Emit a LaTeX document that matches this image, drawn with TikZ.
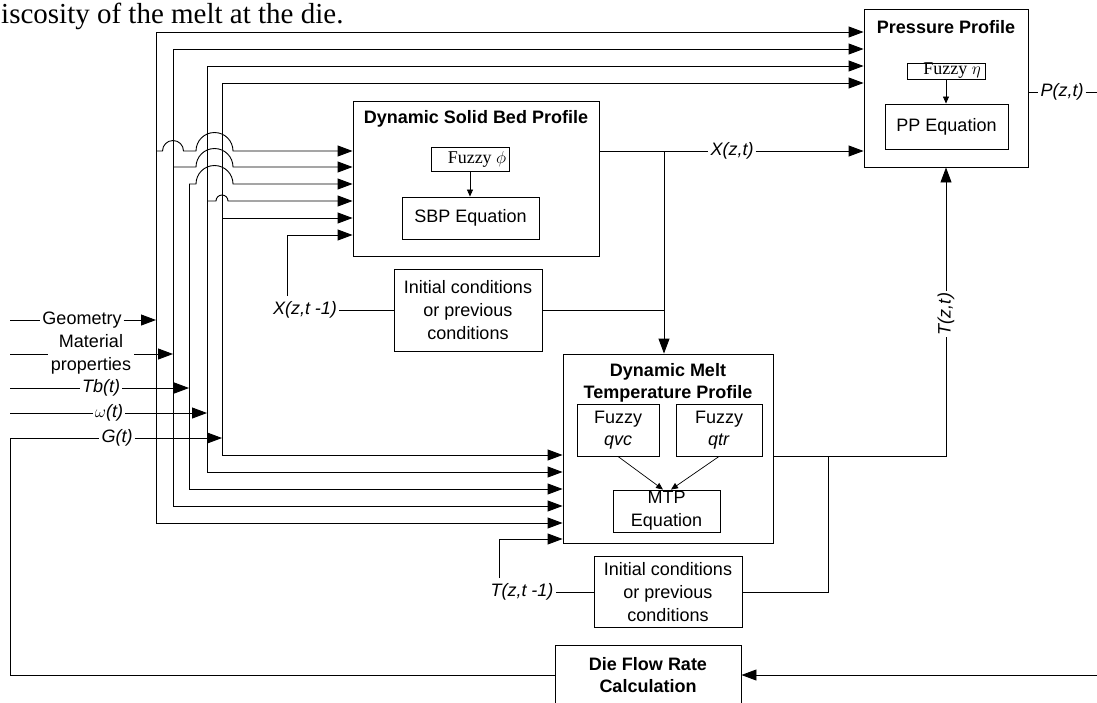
\documentclass[tikz,border=0pt]{standalone}
\usepackage{fontspec}
\setmainfont{Liberation Sans}
\newfontfamily\tnrfont{Liberation Serif}
\usetikzlibrary{arrows.meta,calc}
\newcommand\dfs{\fontsize{18}{22}\selectfont}
\newcommand\dfsw{\fontsize{18}{23}\selectfont}
\begin{document}
\begin{tikzpicture}[x=1pt,y=-1pt,
  every node/.style={font=\dfs},
  box/.style={draw, line width=0.9pt, inner sep=0pt, align=center},
  lbl/.style={inner sep=2pt, font=\dfs\itshape},
  ttl/.style={inner sep=0pt, align=center, font=\dfs\bfseries},
  line/.style={line width=0.9pt},
  arr/.style={line width=0.9pt, -{Triangle[length=15pt,width=11pt]}},
  sarr/.style={line width=0.7pt, -{Triangle[length=7pt,width=6pt]}}]
\useasboundingbox (0,0) rectangle (1097,702);
\clip (0,0) rectangle (1097,702);

% caption fragment
\node[anchor=base west, inner sep=0pt, font=\tnrfont\fontsize{29}{32}\selectfont] (cap) at (1,23) {iscosity of the melt at the die.};

% Pressure profile
\node[box, minimum width=164pt, minimum height=158pt] (PP) at (946,88) {};
\node[ttl] (ppt) at (946,27) {Pressure Profile};
\node[box, minimum width=78pt, minimum height=16pt] (feta) at (946,71) {};
\node[inner sep=0pt, font=\tnrfont\dfs] (fetat) at (952,71) {Fuzzy $\eta$};
\node[box, minimum width=123pt, minimum height=45pt] (ppeq) at (946.5,126.5) {PP Equation};
\draw[sarr] (feta.south) -- (feta.south |- ppeq.north);

% Solid bed profile
\node[box, minimum width=246pt, minimum height=155pt] (SBP) at (476,178.5) {};
\node[ttl] (sbpt) at (476,119) {Dynamic Solid Bed Profile};
\node[box, minimum width=78pt, minimum height=24pt] (fphi) at (470,159) {};
\node[inner sep=0pt, font=\tnrfont\dfs] (fphit) at (477,159) {Fuzzy $\phi$};
\node[box, minimum width=137pt, minimum height=42pt] (sbpeq) at (470.5,218) {SBP Equation};
\draw[sarr] (fphi.south) -- (fphi.south |- sbpeq.north);

% Initial conditions 1
\node[box, minimum width=148pt, minimum height=82pt, font=\dfsw] (IC1) at (468,310) {Initial conditions\\or previous\\conditions};

% Melt temperature profile
\node[box, minimum width=210pt, minimum height=189pt] (MTP) at (668,448.5) {};
\node[ttl] (mtpt) at (668,383) {Dynamic Melt\\Temperature Profile};
\node[box, minimum width=82pt, minimum height=52pt] (qvc) at (618,430) {Fuzzy\\\textit{qvc}};
\node[box, minimum width=86pt, minimum height=52pt] (qtr) at (719,430) {Fuzzy\\\textit{qtr}};
\node[box, minimum width=107pt, minimum height=42pt, font=\dfsw] (mtpeq) at (666.5,511) {MTP\\Equation};
\draw[sarr] (qvc.south) -- ($(mtpeq.north)+(-3.5,0)$);
\draw[sarr] (qtr.south) -- ($(mtpeq.north)+(4.5,0)$);

% Initial conditions 2
\node[box, minimum width=148pt, minimum height=71pt, font=\dfsw] (IC2) at (668,592) {Initial conditions\\or previous\\conditions};

% Die flow rate
\node[box, minimum width=186pt, minimum height=80pt] (DF) at (648,685) {};
\node[ttl] (dft) at (648,675) {Die Flow Rate\\Calculation};

% bus coordinates
\coordinate (b1t) at (156,32);  \coordinate (b1s) at (156,151); \coordinate (b1b) at (156,523);
\coordinate (b2t) at (173,49);  \coordinate (b2s) at (173,167); \coordinate (b2b) at (173,506);
\coordinate (b3s) at (189,184); \coordinate (b3b) at (189,489);
\coordinate (b4t) at (207,66);  \coordinate (b4s) at (207,201); \coordinate (b4b) at (207,472);
\coordinate (b5t) at (222,83);  \coordinate (b5s) at (222,218); \coordinate (b5b) at (222,455);

% bus verticals
\draw[line] (b1t) -- (b1b);
\draw[line] (b2t) -- (b2b);
\draw[line] (b3s) -- (b3b);
\draw[line] (b4t) -- (b4b);
\draw[line] (b5t) -- (b5b);

% to pressure profile
\draw[arr] (b1t) -- (PP.west |- b1t);
\draw[arr] (b2t) -- (PP.west |- b2t);
\draw[arr] (b4t) -- (PP.west |- b4t);
\draw[arr] (b5t) -- (PP.west |- b5t);

% to solid bed profile (with hops)
\draw[arr] (b1s) -- (162.5,151) arc[start angle=180,end angle=0,radius=10.5pt] -- (196,151) arc[start angle=180,end angle=0,radius=18.5pt] -- (SBP.west |- b1s);
\draw[arr] (b2s) -- (196,167) arc[start angle=180,end angle=0,radius=18.5pt] -- (SBP.west |- b2s);
\draw[arr] (b3s) -- (196,184) arc[start angle=180,end angle=0,radius=18.5pt] -- (SBP.west |- b3s);
\draw[arr] (b4s) -- (216,201) arc[start angle=180,end angle=0,radius=6pt] -- (SBP.west |- b4s);
\draw[arr] (b5s) -- (SBP.west |- b5s);

% to melt temperature profile
\draw[arr] (b1b) -- (MTP.west |- b1b);
\draw[arr] (b2b) -- (MTP.west |- b2b);
\draw[arr] (b3b) -- (MTP.west |- b3b);
\draw[arr] (b4b) -- (MTP.west |- b4b);
\draw[arr] (b5b) -- (MTP.west |- b5b);

% left inputs
\coordinate (g0) at (10,320);
\coordinate (m0) at (10,354);
\coordinate (t0) at (10,388);
\coordinate (w0) at (10,413);
\coordinate (gl) at (10,438);
\node[inner sep=2pt] (lgeo) at (82,320) {Geometry};
\node[inner sep=3pt, align=center, font=\dfsw] (lmat) at (91,354) {Material\\properties};
\node[lbl] (ltb) at (101,388) {Tb(t)};
\node[lbl] (lw) at (109,413) {$\omega$(t)};
\node[lbl] (lg) at (117,438) {G(t)};
\draw[line] (g0) -- (lgeo);
\draw[arr] (lgeo) -- (lgeo -| b1t);
\draw[line] (m0) -- (lmat);
\draw[arr] (lmat) -- (lmat -| b2t);
\draw[line] (t0) -- (ltb);
\draw[arr] (ltb) -- (ltb -| b3s);
\draw[line] (w0) -- (lw);
\draw[arr] (lw) -- (lw -| b4t);
\draw[arr] (lg) -- (lg -| b5t);

% X(z,t-1) feedback
\node[lbl] (lxm) at (305,310) {X(z,t -1)};
\coordinate (xm) at (287,296);
\coordinate (xin) at (287,235);
\draw[line] (IC1) -- (lxm);
\draw[arr] (xm) -- (xin) -- (SBP.west |- xin);

% X(z,t) output
\coordinate (xj) at (664,151);
\node[lbl] (lx) at (732,151) {X(z,t)};
\draw[line] (SBP.east |- xj) -- (lx);
\draw[arr] (lx) -- (PP.west |- xj);
\draw[arr] (xj) -- (xj |- MTP.north);
\draw[line] (IC1.east) -- (IC1.east -| xj);

% T(z,t) output
\coordinate (tc) at (946,456);
\coordinate (tj) at (828,456);
\node[lbl, rotate=90] (lt) at (946,314) {T(z,t)};
\draw[line] (MTP.east |- tc) -- (tc) -- (lt);
\draw[arr] (lt) -- (PP.south);
\draw[line] (IC2.east) -- (IC2.east -| tj) -- (tj);

% T(z,t-1) feedback
\node[lbl] (ltm) at (522,592) {T(z,t -1)};
\coordinate (tm) at (499,578);
\coordinate (tin) at (499,539);
\draw[line] (IC2) -- (ltm);
\draw[arr] (tm) -- (tin) -- (MTP.west |- tin);

% P(z,t) output
\coordinate (pz) at (1097,92);
\node[lbl] (lp) at (1062,92) {P(z,t)};
\draw[line] (PP.east |- pz) -- (lp) -- (pz);

% die flow loop
\coordinate (dr) at (1097,675);
\coordinate (dl) at (10,675);
\draw[arr] (dr) -- (DF.east |- dr);
\draw[line] (DF.west |- dl) -- (dl) -- (gl) -- (lg);
\end{tikzpicture}
\end{document}
